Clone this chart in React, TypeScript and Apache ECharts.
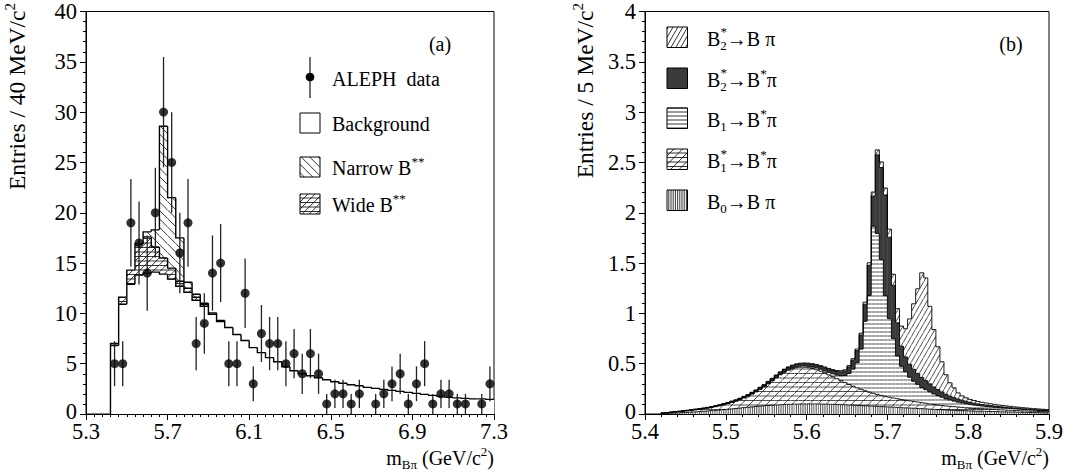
import React, { useEffect, useRef } from 'react';
import * as echarts from 'echarts';

const FONT = '"Liberation Serif", "Times New Roman", serif';

// ---------------- Panel (a) ----------------
const LEFT_X0 = 5.3;
const leftBinStart = 5.42;
const leftBinWidth = 0.04;
const leftBackground = [
  6.8, 10.9, 12.9, 13.8, 14.0, 14.1, 13.9, 13.4, 12.7, 12.1,
  11.3, 10.7, 9.9, 9.2, 8.6, 7.9, 7.3, 6.6, 6.1, 5.6,
  5.2, 4.7, 4.3, 4.0, 3.8, 3.6, 3.4, 3.2, 3.05, 2.9,
  2.8, 2.65, 2.55, 2.45, 2.35, 2.25, 2.15, 2.05, 1.95, 1.85,
  1.75, 1.65, 1.6, 1.55, 1.5, 1.5, 1.45,
];
const leftWide = [
  0.2, 0.7, 1.4, 3.1, 3.6, 2.5, 1.6, 1.1, 0.5, 0.4,
  0.3, 0.2, 0.15, 0.1, 0, 0, 0, 0, 0, 0,
  0, 0, 0, 0, 0, 0, 0, 0, 0, 0,
  0, 0, 0, 0, 0, 0, 0, 0, 0, 0,
  0, 0, 0, 0, 0, 0, 0,
];
const leftNarrow = [
  0, 0, 0, 0, 0.5, 1.7, 13.1, 7.0, 4.3, 0.6,
  0.3, 0.1, 0, 0, 0, 0, 0, 0, 0, 0,
  0, 0, 0, 0, 0, 0, 0, 0, 0, 0,
  0, 0, 0, 0, 0, 0, 0, 0, 0, 0,
  0, 0, 0, 0, 0, 0, 0,
];
const dataMass = [
  5.44, 5.48, 5.52, 5.56, 5.60, 5.64, 5.68, 5.72, 5.76, 5.80,
  5.84, 5.88, 5.92, 5.96, 6.00, 6.04, 6.08, 6.12, 6.16, 6.20,
  6.24, 6.28, 6.32, 6.36, 6.40, 6.44, 6.48, 6.52, 6.56, 6.60,
  6.64, 6.72, 6.76, 6.80, 6.84, 6.88, 6.92, 6.96, 7.00, 7.04,
  7.08, 7.12, 7.16, 7.24, 7.28,
];
const dataCounts = [
  5, 5, 19, 17, 14, 20, 30, 25, 16, 19,
  7, 9, 14, 15, 5, 5, 12, 3, 8, 7,
  7, 5, 6, 4, 6, 4, 1, 2, 2, 1,
  2, 1, 2, 3, 4, 1, 3, 5, 1, 2,
  2, 1, 1, 1, 3,
];
const dataErrors = [
  2.24, 2.24, 4.36, 4.12, 3.74, 4.47, 5.48, 5.0, 4.0, 4.36,
  2.65, 3.0, 3.74, 3.87, 2.24, 2.24, 3.46, 1.73, 2.83, 2.65,
  2.65, 2.24, 2.45, 2.0, 2.45, 2.0, 1.0, 1.41, 1.41, 1.0,
  1.41, 1.0, 1.41, 1.73, 2.0, 1.0, 1.73, 2.24, 1.0, 1.41,
  1.41, 1.0, 1.0, 1.0, 1.73,
];

// ---------------- Panel (b) ----------------
const RIGHT_X0 = 5.4;
const rightBinStart = 5.42;
const rightBinWidth = 0.005;
const b0ToBpi = [
  0.004, 0.006, 0.008, 0.010, 0.012, 0.014, 0.016, 0.018, 0.021, 0.024,
  0.027, 0.030, 0.033, 0.036, 0.039, 0.043, 0.047, 0.051, 0.055, 0.059,
  0.063, 0.067, 0.071, 0.075, 0.079, 0.082, 0.085, 0.088, 0.090, 0.092,
  0.094, 0.096, 0.097, 0.098, 0.099, 0.100, 0.100, 0.100, 0.100, 0.099,
  0.098, 0.097, 0.096, 0.095, 0.093, 0.092, 0.090, 0.088, 0.086, 0.084,
  0.082, 0.080, 0.078, 0.076, 0.074, 0.072, 0.070, 0.068, 0.066, 0.063,
  0.061, 0.059, 0.057, 0.055, 0.053, 0.051, 0.048, 0.046, 0.044, 0.042,
  0.040, 0.038, 0.037, 0.035, 0.034, 0.032, 0.030, 0.029, 0.028, 0.027,
  0.026, 0.025, 0.024, 0.023, 0.022, 0.021, 0.020, 0.019, 0.018, 0.017,
  0.016, 0.015, 0.014, 0.013, 0.012, 0.011,
];
const b1sToBspi = [
  0.004, 0.006, 0.008, 0.010, 0.012, 0.014, 0.016, 0.019, 0.021, 0.023,
  0.025, 0.028, 0.032, 0.037, 0.043, 0.049, 0.056, 0.064, 0.073, 0.084,
  0.097, 0.111, 0.127, 0.145, 0.166, 0.188, 0.215, 0.242, 0.270, 0.298,
  0.321, 0.339, 0.353, 0.362, 0.366, 0.365, 0.360, 0.352, 0.340, 0.326,
  0.310, 0.292, 0.274, 0.256, 0.238, 0.220, 0.203, 0.188, 0.174, 0.161,
  0.149, 0.138, 0.128, 0.119, 0.111, 0.104, 0.097, 0.091, 0.086, 0.081,
  0.076, 0.072, 0.068, 0.064, 0.060, 0.056, 0.052, 0.049, 0.046, 0.043,
  0.040, 0.038, 0.036, 0.034, 0.032, 0.030, 0.028, 0.026, 0.025, 0.024,
  0.023, 0.022, 0.021, 0.020, 0.019, 0.018, 0.017, 0.016, 0.015, 0.014,
  0.014, 0.013, 0.013, 0.012, 0.012, 0.011,
];
const b1ToBspi = [
  0, 0, 0, 0, 0, 0, 0, 0, 0, 0,
  0.001, 0.001, 0.001, 0.001, 0.001, 0.001, 0.001, 0.001, 0.001, 0.001,
  0.002, 0.002, 0.003, 0.003, 0.004, 0.004, 0.005, 0.005, 0.006, 0.006,
  0.007, 0.008, 0.009, 0.010, 0.011, 0.012, 0.013, 0.015, 0.017, 0.019,
  0.022, 0.025, 0.030, 0.036, 0.050, 0.070, 0.110, 0.170, 0.250, 0.400,
  0.690, 0.960, 1.660, 1.600, 1.350, 1.000, 0.780, 0.590, 0.425, 0.330,
  0.280, 0.234, 0.200, 0.175, 0.150, 0.135, 0.120, 0.104, 0.093, 0.082,
  0.070, 0.062, 0.055, 0.049, 0.044, 0.040, 0.036, 0.033, 0.030, 0.028,
  0.026, 0.024, 0.022, 0.020, 0.019, 0.018, 0.017, 0.016, 0.015, 0.014,
  0.013, 0.012, 0.011, 0.010, 0.010, 0.009,
];
const b2sToBspi = [
  0.002, 0.002, 0.003, 0.003, 0.003, 0.004, 0.004, 0.004, 0.005, 0.005,
  0.005, 0.006, 0.006, 0.007, 0.007, 0.008, 0.008, 0.009, 0.009, 0.010,
  0.010, 0.011, 0.012, 0.012, 0.013, 0.014, 0.015, 0.016, 0.017, 0.018,
  0.019, 0.020, 0.021, 0.022, 0.023, 0.024, 0.025, 0.026, 0.027, 0.028,
  0.029, 0.030, 0.032, 0.035, 0.038, 0.045, 0.065, 0.090, 0.120, 0.140,
  0.170, 0.300, 0.300, 0.780, 0.915, 1.000, 0.810, 0.530, 0.330, 0.200,
  0.150, 0.130, 0.120, 0.110, 0.100, 0.090, 0.080, 0.070, 0.060, 0.052,
  0.045, 0.039, 0.034, 0.030, 0.027, 0.024, 0.021, 0.019, 0.017, 0.015,
  0.014, 0.013, 0.012, 0.011, 0.010, 0.009, 0.009, 0.008, 0.008, 0.007,
  0.007, 0.006, 0.006, 0.006, 0.005, 0.005,
];
const b2sToBpi = [
  0.001, 0.001, 0.001, 0.001, 0.001, 0.001, 0.001, 0.001, 0.001, 0.001,
  0.001, 0.001, 0.002, 0.002, 0.002, 0.002, 0.002, 0.003, 0.003, 0.003,
  0.003, 0.003, 0.003, 0.004, 0.004, 0.004, 0.004, 0.004, 0.005, 0.005,
  0.005, 0.005, 0.006, 0.006, 0.006, 0.006, 0.007, 0.007, 0.007, 0.008,
  0.008, 0.009, 0.009, 0.010, 0.011, 0.012, 0.013, 0.014, 0.016, 0.018,
  0.020, 0.025, 0.040, 0.050, 0.055, 0.070, 0.080, 0.110, 0.140, 0.200,
  0.280, 0.450, 0.650, 0.840, 1.040, 1.020, 0.770, 0.570, 0.425, 0.300,
  0.195, 0.133, 0.098, 0.062, 0.043, 0.035, 0.030, 0.027, 0.024, 0.022,
  0.020, 0.018, 0.017, 0.016, 0.015, 0.014, 0.013, 0.012, 0.011, 0.011,
  0.010, 0.010, 0.009, 0.009, 0.008, 0.008,
];

// ---------------- hatching helpers ----------------
type Hatch = { angle: number; spacing: number };

function hatchSegs(x0: number, y0: number, x1: number, y1: number, hatches: Hatch[]): number[][] {
  const out: number[][] = [];
  if (x1 - x0 < 0.2 || y1 - y0 < 0.2) return out;
  for (const h of hatches) {
    const phi = (h.angle * Math.PI) / 180;
    const dx = Math.cos(phi);
    const dy = Math.sin(phi);
    const nx = -dy;
    const ny = dx;
    const cs = [x0 * nx + y0 * ny, x1 * nx + y0 * ny, x0 * nx + y1 * ny, x1 * nx + y1 * ny];
    const cmin = Math.min(...cs);
    const cmax = Math.max(...cs);
    for (let k = Math.ceil(cmin / h.spacing); k * h.spacing <= cmax; k++) {
      const c = k * h.spacing;
      const px = c * nx;
      const py = c * ny;
      let tmin = -1e9;
      let tmax = 1e9;
      if (Math.abs(dx) > 1e-9) {
        const t1 = (x0 - px) / dx;
        const t2 = (x1 - px) / dx;
        tmin = Math.max(tmin, Math.min(t1, t2));
        tmax = Math.min(tmax, Math.max(t1, t2));
      } else if (px < x0 || px > x1) continue;
      if (Math.abs(dy) > 1e-9) {
        const t1 = (y0 - py) / dy;
        const t2 = (y1 - py) / dy;
        tmin = Math.max(tmin, Math.min(t1, t2));
        tmax = Math.min(tmax, Math.max(t1, t2));
      } else if (py < y0 || py > y1) continue;
      if (tmax - tmin < 0.4) continue;
      out.push([px + dx * tmin, py + dy * tmin, px + dx * tmax, py + dy * tmax]);
    }
  }
  return out;
}

function segsToPath(segs: number[][]): string {
  return segs
    .map((s) => `M${s[0].toFixed(2)} ${s[1].toFixed(2)}L${s[2].toFixed(2)} ${s[3].toFixed(2)}`)
    .join('');
}

const H_NARROW: Hatch[] = [{ angle: 45, spacing: 6 }];
const H_WIDE: Hatch[] = [{ angle: 0, spacing: 4.5 }, { angle: -45, spacing: 5 }];
const H_B2B: Hatch[] = [{ angle: -60, spacing: 4.2 }];
const H_B1: Hatch[] = [{ angle: 0, spacing: 4 }];
const H_B1S: Hatch[] = [{ angle: 0, spacing: 4.5 }, { angle: -45, spacing: 6 }];
const H_B0: Hatch[] = [{ angle: 90, spacing: 2.2 }];
const DARK = '#3a3a3a';

type Comp = { values: number[]; fill: string; hatches: Hatch[] };

function histSeries(
  gridIdx: number,
  x0: number,
  start: number,
  width: number,
  comps: Comp[],
  outlineW: number,
  hatchW: number
) {
  const n = comps[0].values.length;
  const data: number[][] = [];
  for (let i = 0; i < n; i++) data.push([start + width * (i + 0.5) - x0, 0, i]);
  return {
    type: 'custom',
    xAxisIndex: gridIdx,
    yAxisIndex: gridIdx,
    data,
    encode: { x: 0, y: 1 },
    clip: true,
    silent: true,
    z: 2,
    renderItem: (_params: any, api: any) => {
      const i = api.value(2);
      const lo = start + width * i - x0;
      const hi = lo + width;
      const xa = api.coord([lo, 0])[0];
      const xb = api.coord([hi, 0])[0];
      const yBase = api.coord([lo, 0])[1];
      const children: any[] = [];
      let cum = 0;
      let prevCum = 0;
      let outline = '';
      for (const c of comps) {
        const v = c.values[i];
        const pv = i > 0 ? c.values[i - 1] : 0;
        const yb = api.coord([lo, cum])[1];
        cum += v;
        prevCum += pv;
        const yt = api.coord([lo, cum])[1];
        const ytPrev = i > 0 ? api.coord([lo, prevCum])[1] : yBase;
        if (yb - yt > 0.05) {
          children.push({
            type: 'rect',
            shape: { x: xa, y: yt, width: xb - xa + 0.4, height: yb - yt },
            style: { fill: c.fill },
          });
          if (c.hatches.length) {
            const segs = hatchSegs(xa, yt, xb, yb, c.hatches);
            if (segs.length)
              children.push({
                type: 'path',
                shape: { pathData: segsToPath(segs) },
                style: { fill: 'none', stroke: '#000', lineWidth: hatchW },
              });
          }
        }
        outline += `M${xa.toFixed(2)} ${ytPrev.toFixed(2)}L${xa.toFixed(2)} ${yt.toFixed(2)}L${xb.toFixed(2)} ${yt.toFixed(2)}`;
      }
      children.push({
        type: 'path',
        shape: { pathData: outline },
        style: { fill: 'none', stroke: '#000', lineWidth: outlineW },
      });
      return { type: 'group', children };
    },
  };
}

// ---------------- graphic helpers ----------------
function hatchBox(x: number, y: number, w: number, h: number, fill: string, hatches: Hatch[]) {
  const els: any[] = [
    { type: 'rect', silent: true, shape: { x, y, width: w, height: h }, style: { fill } },
  ];
  for (const s of hatchSegs(x, y, x + w, y + h, hatches)) {
    els.push({
      type: 'line',
      silent: true,
      shape: { x1: s[0], y1: s[1], x2: s[2], y2: s[3] },
      style: { stroke: '#000', lineWidth: 0.8 },
    });
  }
  els.push({
    type: 'rect',
    silent: true,
    shape: { x, y, width: w, height: h },
    style: { fill: 'none', stroke: '#000', lineWidth: 1 },
  });
  return els;
}

const RICH = {
  sub: { fontFamily: FONT, fontSize: 13, verticalAlign: 'bottom', lineHeight: 14, fill: '#000' },
  sup: { fontFamily: FONT, fontSize: 13, verticalAlign: 'top', lineHeight: 14, fill: '#000' },
  supL: { fontFamily: FONT, fontSize: 15, verticalAlign: 'top', lineHeight: 15, fill: '#000' },
};

function txt(x: number, y: number, text: string, extra: any = {}, elExtra: any = {}) {
  return {
    type: 'text',
    silent: true,
    x,
    y,
    ...elExtra,
    style: {
      text,
      fontFamily: FONT,
      fontSize: 20,
      fill: '#000',
      align: 'left',
      verticalAlign: 'middle',
      lineHeight: 26,
      rich: RICH,
      ...extra,
    },
  };
}

function buildGraphics() {
  const g: any[] = [];
  // panel labels
  g.push(txt(440, 44, '(a)', { align: 'center' }));
  g.push(txt(1011, 44, '(b)', { align: 'center' }));

  // axis titles
  g.push(txt(494, 458, 'm{sub|Bπ} (GeV/c{sup|2})', { align: 'right' }));
  g.push(txt(1049, 458, 'm{sub|Bπ} (GeV/c{sup|2})', { align: 'right' }));
  g.push(
    txt(17, 3, 'Entries / 40 MeV/c{supL|2}', { align: 'right', fontSize: 23.5, lineHeight: 30 }, { rotation: Math.PI / 2 })
  );
  g.push(
    txt(585, 3, 'Entries / 5 MeV/c{supL|2}', { align: 'right', fontSize: 23.5, lineHeight: 30 }, { rotation: Math.PI / 2 })
  );

  // left legend
  g.push({
    type: 'line',
    silent: true,
    shape: { x1: 310, y1: 57, x2: 310, y2: 98 },
    style: { stroke: '#222', lineWidth: 1.3 },
  });
  g.push({ type: 'circle', silent: true, shape: { cx: 310, cy: 77, r: 4.3 }, style: { fill: '#000' } });
  g.push(txt(332, 79, 'ALEPH  data'));
  g.push(...hatchBox(300, 113, 20, 20, '#fff', []));
  g.push(txt(332, 124, 'Background'));
  g.push(...hatchBox(300, 157, 20, 20, '#fff', H_NARROW));
  g.push(txt(332, 168, 'Narrow B{sup|**}'));
  g.push(...hatchBox(300, 194, 20, 20, '#fff', H_WIDE));
  g.push(txt(332, 205, 'Wide B{sup|**}'));

  // right legend
  const bx = 667;
  const tx = 707;
  const rows = [
    { y: 27, fill: '#fff', h: H_B2B, text: 'B{sub|2}→B π', star: true },
    { y: 68, fill: DARK, h: [] as Hatch[], text: 'B{sub|2}→B{sup|*}π', star: true },
    { y: 108, fill: '#fff', h: H_B1, text: 'B{sub|1}→B{sup|*}π', star: false },
    { y: 149, fill: '#fff', h: H_B1S, text: 'B{sub|1}→B{sup|*}π', star: true },
    { y: 190, fill: '#fff', h: H_B0, text: 'B{sub|0}→B π', star: false },
  ];
  for (const r of rows) {
    g.push(...hatchBox(bx, r.y, 20.5, 20.5, r.fill, r.h));
    g.push(txt(tx, r.y + 12, r.text));
    if (r.star) g.push(txt(tx + 13.5, r.y + 4, '*', { fontSize: 13, lineHeight: 14 }));
  }
  return g;
}

function buildOption() {
  const axisCommon = {
    axisLine: { show: true, onZero: false, lineStyle: { color: '#000', width: 1 } },
    axisTick: { show: true, length: 6, lineStyle: { color: '#000', width: 1 } },
    minorTick: { show: true, length: 3, lineStyle: { color: '#000', width: 1 } },
    splitLine: { show: false },
    minorSplitLine: { show: false },
  };
  const labelStyle = { color: '#000', fontFamily: FONT, fontSize: 22.5, lineHeight: 16 };
  const zeroRich = {
    z: { fontFamily: FONT, fontSize: 22.5, lineHeight: 16, color: '#000', padding: [0, 0, 6, 0] },
  };
  const yFormatter = (v: number) => (v === 0 ? '{z|0}' : String(v));

  const leftComps: Comp[] = [
    { values: leftBackground, fill: '#fff', hatches: [] },
    { values: leftWide, fill: '#fff', hatches: H_WIDE },
    { values: leftNarrow, fill: '#fff', hatches: H_NARROW },
  ];
  const rightComps: Comp[] = [
    { values: b0ToBpi, fill: '#fff', hatches: H_B0 },
    { values: b1sToBspi, fill: '#fff', hatches: H_B1S },
    { values: b1ToBspi, fill: '#fff', hatches: H_B1 },
    { values: b2sToBspi, fill: DARK, hatches: [] },
    { values: b2sToBpi, fill: '#fff', hatches: H_B2B },
  ];

  return {
    animation: false,
    backgroundColor: '#fff',
    grid: [
      { left: 86, top: 7, width: 408, height: 407, show: true, borderColor: '#000', borderWidth: 1, backgroundColor: 'transparent' },
      { left: 645, top: 7, width: 404, height: 407, show: true, borderColor: '#000', borderWidth: 1, backgroundColor: 'transparent' },
    ],
    xAxis: [
      {
        gridIndex: 0,
        type: 'value',
        min: 0,
        max: 2.0,
        interval: 0.4,
        ...axisCommon,
        minorTick: { ...axisCommon.minorTick, splitNumber: 10 },
        axisLabel: { ...labelStyle, margin: 9, formatter: (v: number) => (v + LEFT_X0).toFixed(1) },
      },
      {
        gridIndex: 1,
        type: 'value',
        min: 0,
        max: 0.5,
        interval: 0.1,
        ...axisCommon,
        minorTick: { ...axisCommon.minorTick, splitNumber: 5 },
        axisLabel: { ...labelStyle, margin: 9, formatter: (v: number) => (v + RIGHT_X0).toFixed(1) },
      },
    ],
    yAxis: [
      {
        gridIndex: 0,
        type: 'value',
        min: 0,
        max: 40,
        interval: 5,
        ...axisCommon,
        minorTick: { ...axisCommon.minorTick, splitNumber: 5 },
        axisLabel: { ...labelStyle, margin: 9, formatter: yFormatter, rich: zeroRich },
      },
      {
        gridIndex: 1,
        type: 'value',
        min: 0,
        max: 4,
        interval: 0.5,
        ...axisCommon,
        minorTick: { ...axisCommon.minorTick, splitNumber: 5 },
        axisLabel: { ...labelStyle, margin: 9, formatter: yFormatter, rich: zeroRich },
      },
    ],
    series: [
      histSeries(0, LEFT_X0, leftBinStart, leftBinWidth, leftComps, 1.4, 0.8),
      histSeries(1, RIGHT_X0, rightBinStart, rightBinWidth, rightComps, 0.9, 0.7),
      {
        type: 'custom',
        xAxisIndex: 0,
        yAxisIndex: 0,
        silent: true,
        z: 4,
        data: dataMass.map((m, i) => [m - LEFT_X0, dataCounts[i], dataErrors[i]]),
        encode: { x: 0, y: 1 },
        renderItem: (_p: any, api: any) => {
          const x = api.value(0);
          const y = api.value(1);
          const e = api.value(2);
          const a = api.coord([x, y + e]);
          const b = api.coord([x, Math.max(0, y - e)]);
          return {
            type: 'line',
            shape: { x1: a[0], y1: a[1], x2: b[0], y2: b[1] },
            style: { stroke: '#222', lineWidth: 1.3 },
          };
        },
      },
      {
        type: 'scatter',
        xAxisIndex: 0,
        yAxisIndex: 0,
        silent: true,
        z: 5,
        symbol: 'circle',
        symbolSize: 9,
        itemStyle: { color: '#000' },
        data: dataMass.map((m, i) => [m - LEFT_X0, dataCounts[i]]),
      },
    ],
    graphic: { elements: buildGraphics() },
  };
}

export default function App() {
  const ref = useRef<HTMLDivElement>(null);
  useEffect(() => {
    document.body.style.margin = '0';
    if (!ref.current) return;
    const chart = echarts.init(ref.current, undefined, { renderer: 'svg' });
    chart.setOption(buildOption() as any);
    return () => chart.dispose();
  }, []);
  return (
    <div
      ref={ref}
      style={{ position: 'absolute', left: 0, top: 0, width: 1068, height: 473, background: '#fff' }}
    />
  );
}
